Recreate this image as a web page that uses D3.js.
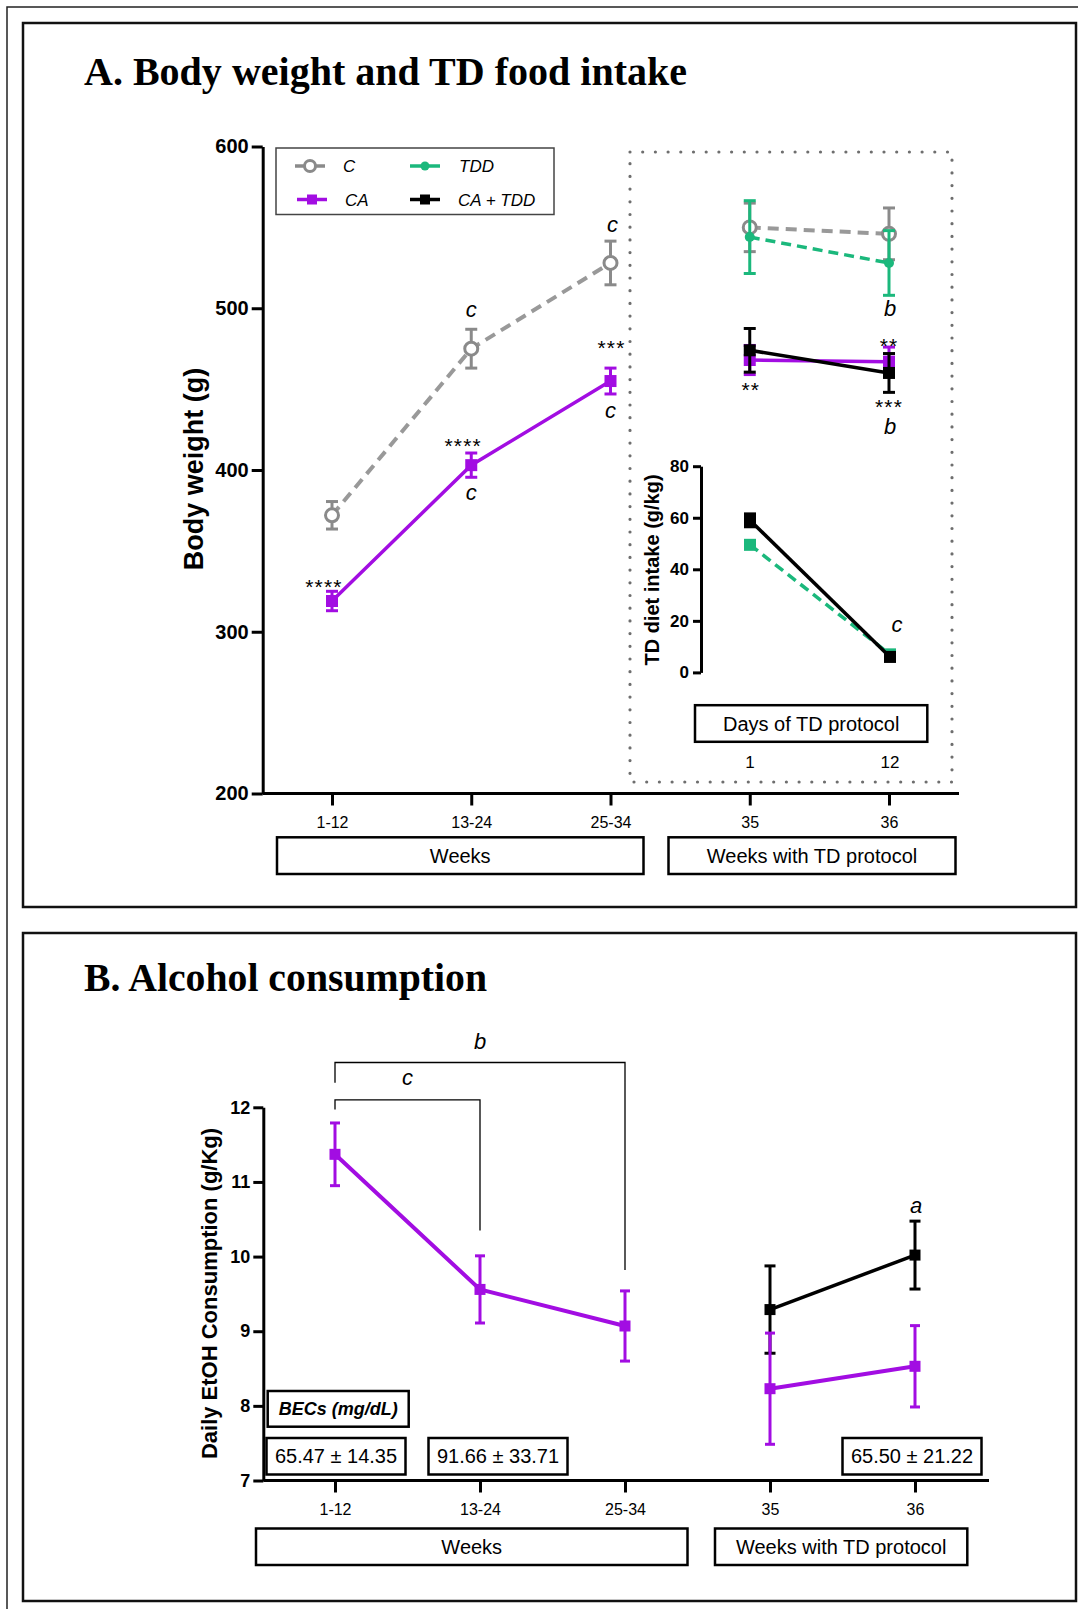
<!DOCTYPE html>
<html>
<head>
<meta charset="utf-8">
<script src="https://cdn.jsdelivr.net/npm/d3@7"></script>
<style>
  body { margin: 0; background: #fff; }
  text { font-family: "Liberation Sans", Arial, sans-serif; }
</style>
</head>
<body>
<div id="chart"></div>
<script>
// ---- data ----
var weeks = ["1-12", "13-24", "25-34", "35", "36"];
var tdWeeks = ["35", "36"];
var days = ["1", "12"];

// body weight (g), mean and error
var cWeight = [372, 475, 528, 550, 546];
var cWeightErr = [8.5, 12, 13.5, 15, 16];
var caWeight = [319, 403, 455, 468, 467];
var caWeightErr = [6, 7.5, 8, 9, 9];
var tddWeight = [544, 528];
var tddWeightErr = [22.5, 20];
var catddWeight = [474, 460];
var catddWeightErr = [13.5, 12];

// TD diet intake (g/kg)
var catddIntake = [59, 6];
var catddIntakeErr = [2.5, 1];
var tddIntake = [49.5, 7];
var tddIntakeErr = [1.5, 1];

// daily EtOH consumption (g/Kg)
var caEtoh = [11.37, 9.56, 9.07, 8.23, 8.53];
var caEtohErr = [0.42, 0.45, 0.47, 0.745, 0.545];
var catddEtoh = [9.29, 10.02];
var catddEtohErr = [0.585, 0.455];

var becCats = ["1-12", "13-24", "36"];
var becLabels = ["65.47 ± 14.35", "91.66 ± 33.71", "65.50 ± 21.22"];

var weightTicks = [200, 300, 400, 500, 600];
var intakeTicks = [0, 20, 40, 60, 80];
var etohTicks = [7, 8, 9, 10, 11, 12];

// significance letters / stars: [category, value at baseline, text, dx]
var weightLetters = [["13-24", 494.6, "c", 0], ["25-34", 547, "c", 2], ["13-24", 381.5, "c", 0],
                     ["25-34", 432, "c", 0], ["36", 495, "b", 1], ["36", 422, "b", 1]];
var weightStars = [["1-12", 323.5, "****", -8], ["13-24", 410.6, "****", -8], ["25-34", 470.9, "***", 1],
                   ["35", 445.2, "**", 1], ["36", 472.5, "**", 0], ["36", 434.5, "***", 0]];
var intakeLetters = [["12", 15.7, "c", 7]];
var etohLetters = [["36", 10.58, "a", 1]];
// brackets: from, to, top, left end, right end, letter, letter baseline
var etohBrackets = [["1-12", "25-34", 12.6, 12.33, 9.82, "b", 12.78],
                    ["1-12", "13-24", 12.1, 11.97, 10.35, "c", 12.30]];

var colGrey = "#999999", colGreyMk = "#8a8a8a", colCA = "#a20de2", colTDD = "#1bb87c", colBlk = "#000";

var svg = d3.select("#chart").append("svg")
  .attr("width", 1078).attr("height", 1609);

// frames
svg.append("path").attr("d", "M7,1609V7H1078").attr("fill", "none").attr("stroke", "#222").attr("stroke-width", 1.5);
svg.append("rect").attr("x", 23).attr("y", 23).attr("width", 1053).attr("height", 884)
  .attr("fill", "none").attr("stroke", "#111").attr("stroke-width", 2.5);
svg.append("rect").attr("x", 23).attr("y", 933).attr("width", 1053).attr("height", 668)
  .attr("fill", "none").attr("stroke", "#111").attr("stroke-width", 2.5);

// titles
svg.append("text").attr("x", 84).attr("y", 85)
  .attr("textLength", 603).attr("lengthAdjust", "spacingAndGlyphs")
  .style("font-family", "'Liberation Serif', serif").style("font-weight", "bold").style("font-size", "40px")
  .text("A. Body weight and TD food intake");
svg.append("text").attr("x", 84).attr("y", 990.5)
  .attr("textLength", 403).attr("lengthAdjust", "spacingAndGlyphs")
  .style("font-family", "'Liberation Serif', serif").style("font-weight", "bold").style("font-size", "40px")
  .text("B. Alcohol consumption");

// ---- helpers ----
function zip(cats, mean, err) {
  return cats.map(function(c, i) { return {c: c, m: mean[i], e: err ? err[i] : 0}; });
}
function drawLine(g, x, y, d, color, sw, dash) {
  var line = d3.line().x(function(p) { return x(p.c); }).y(function(p) { return y(p.m); });
  g.append("path").datum(d).attr("d", line).attr("fill", "none")
    .attr("stroke", color).attr("stroke-width", sw)
    .attr("stroke-dasharray", dash || null);
}
function drawErr(g, x, y, d, color, capW, sw) {
  var eg = g.append("g").attr("stroke", color).attr("stroke-width", sw).attr("fill", "none");
  eg.selectAll(".v").data(d).enter().append("line")
    .attr("x1", function(p) { return x(p.c); }).attr("x2", function(p) { return x(p.c); })
    .attr("y1", function(p) { return y(p.m - p.e); }).attr("y2", function(p) { return y(p.m + p.e); });
  [1, -1].forEach(function(s) {
    eg.selectAll(".cap" + s).data(d).enter().append("line")
      .attr("x1", function(p) { return x(p.c) - capW / 2; }).attr("x2", function(p) { return x(p.c) + capW / 2; })
      .attr("y1", function(p) { return y(p.m + s * p.e); }).attr("y2", function(p) { return y(p.m + s * p.e); });
  });
}
function drawSquares(g, x, y, d, color, size) {
  g.selectAll(null).data(d).enter().append("rect")
    .attr("x", function(p) { return x(p.c) - size / 2; }).attr("y", function(p) { return y(p.m) - size / 2; })
    .attr("width", size).attr("height", size).attr("fill", color);
}
function drawCircles(g, x, y, d, color, r, open) {
  g.selectAll(null).data(d).enter().append("circle")
    .attr("cx", function(p) { return x(p.c); }).attr("cy", function(p) { return y(p.m); })
    .attr("r", r)
    .attr("fill", open ? "#fff" : color)
    .attr("stroke", open ? color : "none").attr("stroke-width", 3);
}
function drawMarks(g, x, y, list, size, style) {
  g.selectAll(null).data(list).enter().append("text")
    .attr("x", function(p) { return x(p[0]) + p[3]; })
    .attr("y", function(p) { return y(p[1]); })
    .attr("text-anchor", "middle")
    .style("font-size", size + "px")
    .style("font-style", style)
    .style("letter-spacing", style === "normal" ? "1.2px" : null)
    .text(function(p) { return p[2]; });
}
function styleAxis(g, sw) {
  g.selectAll(".domain, .tick line").attr("stroke", "#000").attr("stroke-width", sw);
}
function boxLabel(g, x0, y0, w, h, label, fs, sw, fstyle, fweight) {
  g.append("rect").attr("x", x0).attr("y", y0).attr("width", w).attr("height", h)
    .attr("fill", "#fff").attr("stroke", "#000").attr("stroke-width", sw);
  g.append("text").attr("x", x0 + w / 2).attr("y", y0 + h / 2 + fs * 0.36)
    .attr("text-anchor", "middle").style("font-size", fs + "px")
    .style("font-style", fstyle || "normal").style("font-weight", fweight || "normal")
    .text(label);
}

// ================= PANEL A =================
var gA = svg.append("g");
var xA = d3.scalePoint().domain(weeks).range([332, 889]);
var yA = d3.scaleLinear().domain([200, 600]).range([793.5, 146.5]);

// dotted box around TD weeks
gA.append("rect").attr("x", 630).attr("y", 152).attr("width", 322).attr("height", 630)
  .attr("fill", "none").attr("stroke", "#6e6e6e").attr("stroke-width", 3.2)
  .attr("stroke-linecap", "round").attr("stroke-dasharray", "0 12.7");

var xAxisA = gA.append("g").attr("transform", "translate(0,793.5)")
  .call(d3.axisBottom(xA).tickSize(12).tickPadding(11).tickSizeOuter(0));
xAxisA.select(".domain").attr("d", "M262.7,0H959");
xAxisA.selectAll("text").style("font-size", "16px").attr("fill", "#000");
styleAxis(xAxisA, 3);

var yAxisA = gA.append("g").attr("transform", "translate(262.7,0)")
  .call(d3.axisLeft(yA).tickValues(weightTicks).tickFormat(d3.format("d")).tickSize(11).tickPadding(3).tickSizeOuter(0));
yAxisA.selectAll("text").style("font-size", "20px").style("font-weight", "bold").attr("fill", "#000");
styleAxis(yAxisA, 3);

gA.append("text").attr("transform", "translate(203,469) rotate(-90)")
  .attr("text-anchor", "middle").style("font-size", "27px").style("font-weight", "bold")
  .text("Body weight (g)");

// C
var cPts = zip(weeks, cWeight, cWeightErr);
drawLine(gA, xA, yA, cPts.slice(0, 3), colGrey, 4, "11 7");
drawLine(gA, xA, yA, cPts.slice(3), colGrey, 4, "11 7");
drawErr(gA, xA, yA, cPts, colGreyMk, 12, 3);
drawCircles(gA, xA, yA, cPts, colGreyMk, 6.5, true);
// TDD
var tddPts = zip(tdWeeks, tddWeight, tddWeightErr);
drawLine(gA, xA, yA, tddPts, colTDD, 3.5, "10 6");
drawErr(gA, xA, yA, tddPts, colTDD, 12, 3);
drawCircles(gA, xA, yA, tddPts, colTDD, 5, false);
// CA
var caPts = zip(weeks, caWeight, caWeightErr);
drawLine(gA, xA, yA, caPts.slice(0, 3), colCA, 3.5);
drawLine(gA, xA, yA, caPts.slice(3), colCA, 3.5);
drawErr(gA, xA, yA, caPts, colCA, 12, 3);
drawSquares(gA, xA, yA, caPts, colCA, 12);
// CA + TDD
var catddPts = zip(tdWeeks, catddWeight, catddWeightErr);
drawLine(gA, xA, yA, catddPts, colBlk, 3.5);
drawErr(gA, xA, yA, catddPts, colBlk, 12, 3);
drawSquares(gA, xA, yA, catddPts, colBlk, 12);

drawMarks(gA, xA, yA, weightLetters, 22, "italic");
drawMarks(gA, xA, yA, weightStars, 21, "normal");

// legend
var leg = gA.append("g");
leg.append("rect").attr("x", 276).attr("y", 148).attr("width", 278).attr("height", 66.5)
  .attr("fill", "#fff").attr("stroke", "#444").attr("stroke-width", 1.5);
var legItems = [
  {name: "C", col: colGreyMk, lx: 295, ty: 166, tx: 343, mk: "open"},
  {name: "CA", col: colCA, lx: 297, ty: 199.5, tx: 345, mk: "sq"},
  {name: "TDD", col: colTDD, lx: 410, ty: 166, tx: 459, mk: "dot"},
  {name: "CA + TDD", col: colBlk, lx: 410, ty: 199.5, tx: 458, mk: "sq"}
];
legItems.forEach(function(it) {
  leg.append("line").attr("x1", it.lx).attr("x2", it.lx + 30).attr("y1", it.ty).attr("y2", it.ty)
    .attr("stroke", it.col).attr("stroke-width", 3.5);
  if (it.mk === "sq") {
    leg.append("rect").attr("x", it.lx + 10).attr("y", it.ty - 5).attr("width", 10).attr("height", 10).attr("fill", it.col);
  } else {
    leg.append("circle").attr("cx", it.lx + 15).attr("cy", it.ty).attr("r", it.mk === "open" ? 5.5 : 4.5)
      .attr("fill", it.mk === "open" ? "#fff" : it.col).attr("stroke", it.mk === "open" ? it.col : "none").attr("stroke-width", 3);
  }
  leg.append("text").attr("x", it.tx).attr("y", it.ty + 6).style("font-size", "17px").style("font-style", "italic")
    .text(it.name);
});

// inset: TD diet intake
var xI = d3.scalePoint().domain(days).range([750, 890]);
var yI = d3.scaleLinear().domain([0, 80]).range([672.4, 466.2]);
var yAxisI = gA.append("g").attr("transform", "translate(701,0)")
  .call(d3.axisLeft(yI).tickValues(intakeTicks).tickFormat(d3.format("d")).tickSize(8).tickPadding(4).tickSizeOuter(0));
yAxisI.selectAll("text").style("font-size", "17px").style("font-weight", "bold").attr("fill", "#000");
styleAxis(yAxisI, 3);
gA.append("text").attr("transform", "translate(659,570) rotate(-90)")
  .attr("text-anchor", "middle").style("font-size", "20px").style("font-weight", "bold")
  .text("TD diet intake (g/kg)");

var tddI = zip(days, tddIntake, tddIntakeErr);
drawLine(gA, xI, yI, tddI, colTDD, 3.5, "10 6");
drawErr(gA, xI, yI, tddI, colTDD, 12, 3);
drawSquares(gA, xI, yI, tddI, colTDD, 12);
var catddI = zip(days, catddIntake, catddIntakeErr);
drawLine(gA, xI, yI, catddI, colBlk, 3.5);
drawErr(gA, xI, yI, catddI, colBlk, 12, 3);
drawSquares(gA, xI, yI, catddI, colBlk, 12);
drawMarks(gA, xI, yI, intakeLetters, 22, "italic");

gA.selectAll(null).data(days).enter().append("text")
  .attr("x", function(d) { return xI(d); }).attr("y", 768)
  .attr("text-anchor", "middle").style("font-size", "17px").text(function(d) { return d; });

boxLabel(gA, 695, 705.2, 232.3, 36.6, "Days of TD protocol", 20, 2.5);
boxLabel(gA, 277, 837.3, 366.5, 36.7, "Weeks", 20, 2.5);
boxLabel(gA, 668.5, 837.3, 287, 36.7, "Weeks with TD protocol", 20, 2.5);

// ================= PANEL B =================
var gB = svg.append("g");
var xB = d3.scalePoint().domain(weeks).range([335, 915]);
var yB = d3.scaleLinear().domain([7, 12]).range([1480.5, 1107.3]);

var xAxisB = gB.append("g").attr("transform", "translate(0,1480.5)")
  .call(d3.axisBottom(xB).tickSize(12).tickPadding(11).tickSizeOuter(0));
xAxisB.select(".domain").attr("d", "M263.3,0H989");
xAxisB.selectAll("text").style("font-size", "16px").attr("fill", "#000");
styleAxis(xAxisB, 3);

var yAxisB = gB.append("g").attr("transform", "translate(263.3,0)")
  .call(d3.axisLeft(yB).tickValues(etohTicks).tickFormat(d3.format("d")).tickSize(10).tickPadding(3).tickSizeOuter(0));
yAxisB.selectAll("text").style("font-size", "18px").style("font-weight", "bold").attr("fill", "#000");
styleAxis(yAxisB, 3);

gB.append("text").attr("transform", "translate(216.5,1293.5) rotate(-90)")
  .attr("text-anchor", "middle").style("font-size", "22px").style("font-weight", "bold")
  .text("Daily EtOH Consumption (g/Kg)");

// brackets
etohBrackets.forEach(function(b) {
  var x0 = xB(b[0]), x1 = xB(b[1]);
  gB.append("path")
    .attr("d", "M" + x0 + "," + yB(b[3]) + "V" + yB(b[2]) + "H" + x1 + "V" + yB(b[4]))
    .attr("fill", "none").attr("stroke", "#000").attr("stroke-width", 1.3);
  gB.append("text").attr("x", (x0 + x1) / 2).attr("y", yB(b[6]))
    .attr("text-anchor", "middle").style("font-size", "22px").style("font-style", "italic")
    .text(b[5]);
});

var catddB = zip(tdWeeks, catddEtoh, catddEtohErr);
drawLine(gB, xB, yB, catddB, colBlk, 3.5);
drawErr(gB, xB, yB, catddB, colBlk, 11, 3);
drawSquares(gB, xB, yB, catddB, colBlk, 11);

var caB = zip(weeks, caEtoh, caEtohErr);
drawLine(gB, xB, yB, caB.slice(0, 3), colCA, 4);
drawLine(gB, xB, yB, caB.slice(3), colCA, 4);
drawErr(gB, xB, yB, caB, colCA, 10, 3);
drawSquares(gB, xB, yB, caB, colCA, 11);

drawMarks(gB, xB, yB, etohLetters, 22, "italic");

// BEC boxes
boxLabel(gB, 267.7, 1391, 141, 35.7, "BECs (mg/dL)", 18, 2.5, "italic", "bold");
var becOffset = [1, 18, -3];
becCats.forEach(function(c, i) {
  boxLabel(gB, xB(c) + becOffset[i] - 69.5, 1438, 139, 36.5, becLabels[i], 20, 2.5);
});

boxLabel(gB, 256, 1528.5, 431.5, 36.5, "Weeks", 20, 2.5);
boxLabel(gB, 715, 1528.5, 252.3, 36.5, "Weeks with TD protocol", 20, 2.5);
</script>
</body>
</html>
